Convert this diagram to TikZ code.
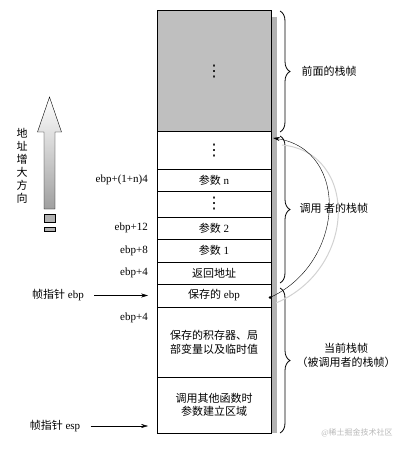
\documentclass[tikz,border=0pt]{standalone}
\usepackage{fontspec}
\setmainfont{Liberation Serif}
\newfontfamily\cjk{Noto Sans CJK SC}
\newfontfamily\symf{DejaVu Sans}
\usetikzlibrary{arrows.meta,positioning,decorations.pathreplacing}
\newcommand{\zh}[1]{{\cjk #1}}
\newcommand{\vdts}{{\symf\fontsize{16}{16}\selectfont ⋮}}
\tikzset{
  cell/.style  = {draw, line width=1pt, rectangle, minimum width=114pt,
                  inner sep=0pt, outer sep=0pt, align=center},
  ptr/.style   = {-{Stealth[length=2.4mm,width=1.4mm]}, thin},
  brc/.style   = {decorate, decoration={brace, amplitude=10pt}, thick},
  offs/.style  = {anchor=east, inner sep=0pt},
  dot/.style   = {fill, circle, inner sep=0pt, minimum size=3pt},
}

\begin{document}
\begin{tikzpicture}[x=1pt,y=-1pt,font=\fontsize{11}{13}\selectfont]
\useasboundingbox (0,0) rectangle (407,449);
% ---------- shadow of the stack ----------
\fill[gray!60] (271,17) rectangle (277,433);
% ---------- stack cells ----------
\node[cell, fill=gray!50, minimum height=121pt] (prev) at (214,71.5) {\vdts};
\node[cell, minimum height=37pt, below=0pt of prev] (dotsa) {\vdts};
\node[cell, minimum height=22pt, below=0pt of dotsa] (argn) {\zh{参数} n};
\node[cell, minimum height=26pt, below=0pt of argn] (dotsb) {\vdts};
\node[cell, minimum height=22pt, below=0pt of dotsb] (argb) {\zh{参数} 2};
\node[cell, minimum height=23pt, below=0pt of argb] (arga) {\zh{参数} 1};
\node[cell, minimum height=22pt, below=0pt of arga] (ret) {\zh{返回地址}};
\node[cell, minimum height=23pt, below=0pt of ret] (oldebp) {\zh{保存的} ebp};
\node[cell, minimum height=70pt, below=0pt of oldebp,
      font=\fontsize{11}{14}\selectfont] (locals)
  {\zh{保存的积存器、局}\\\zh{部变量以及临时值}};
\node[cell, minimum height=56pt, below=0pt of locals] (args)
  {\zh{调用其他函数时}\\\zh{参数建立区域}};
% ---------- offsets ----------
\node[offs, left=9pt of argn] (offn) {ebp+(1+n)4};
\node[offs, left=9pt of argb] (offb) {ebp+12};
\node[offs, left=9pt of arga] (offa) {ebp+8};
\node[offs, left=9pt of ret] (offr) {ebp+4};
\node[offs] (offl) at (148,318) {ebp+4};
% ---------- frame pointers ----------
\node (ebpname) at (58,295.5) {\zh{帧指针} ebp};
\node (espname) at (55,426) {\zh{帧指针} esp};
\coordinate (espat) at (args.west |- espname);
\draw[ptr, shorten >=9pt] ([xshift=7pt]ebpname.east) -- (oldebp.west);
\draw[ptr, shorten >=9pt] ([xshift=7pt]espname.east) -- (espat);
% ---------- address direction ----------
\shadedraw[top color=white, bottom color=gray!75, thin]
  (44,209) -- (44,132) -- (37.5,132) -- (49.5,97) -- (61.5,132)
  -- (55,132) -- (55,209) -- cycle;
\filldraw[fill=gray!60, thin] (44,214) rectangle (55,222);
\filldraw[fill=gray!60, thin] (44,227) rectangle (55,231);
\node[align=center, inner sep=0pt] (dirtxt) at (22,165.5)
  {\zh{地}\\\zh{址}\\\zh{增}\\\zh{大}\\\zh{方}\\\zh{向}};
% ---------- braces ----------
\draw[brc] (280,11) -- (280,132);
\draw[brc] (280,136) -- (280,283);
\draw[brc] (280,288) -- (280,433);
\node[anchor=west] (prevlbl) at (298,71.5) {\zh{前面的栈帧}};
\node[anchor=west] (callerlbl) at (296,208) {\zh{调用 者的栈帧}};
\node[align=center, font=\fontsize{11}{14}\selectfont] (curlbl) at (346,355)
  {\zh{当前栈帧}\\\zh{（被调用者的栈帧）}};
% ---------- saved ebp link ----------
\node[dot] (savedot) at ([xshift=-1pt,yshift=-2pt]oldebp.east) {};
\coordinate (topat) at ([xshift=2pt,yshift=-6pt]dotsa.north east);
\draw[gray!35, line width=1pt] (276,303) .. controls (358,268) and (358,152) .. (282,145);
\draw[ptr] (savedot) .. controls (345,262) and (350,150) .. (topat);
% ---------- watermark ----------
\node[text=gray!55, font=\fontsize{8}{9}\selectfont] (wm) at (357,433)
  {@\zh{稀土掘金技术社区}};
\end{tikzpicture}
\end{document}
